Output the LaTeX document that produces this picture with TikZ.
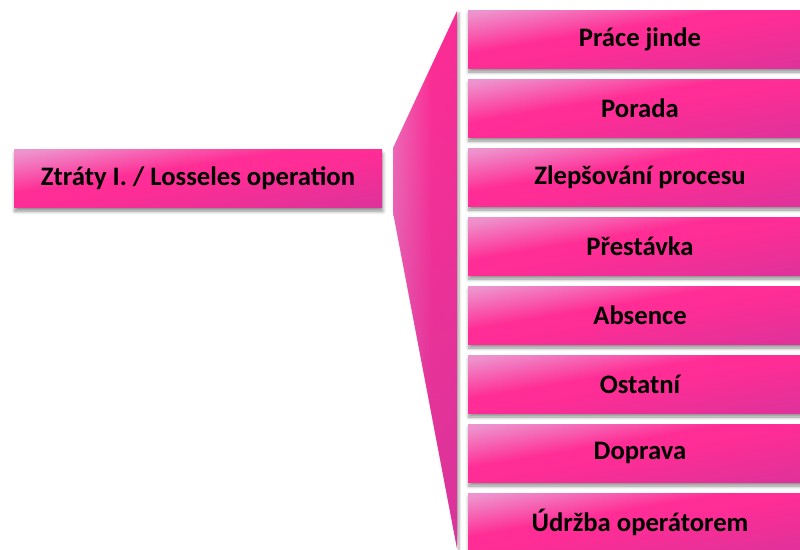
\documentclass[tikz,border=0pt]{standalone}
\usepackage{fontspec}
\setmainfont{Carlito}
\usetikzlibrary{shadows.blur,fadings}

\definecolor{lav}{HTML}{E4DBF0}
\definecolor{palepink}{HTML}{E6B6DF}
\definecolor{softpink}{HTML}{EE8FCB}
\definecolor{hotpink}{HTML}{FF2D95}
\definecolor{midmag}{HTML}{E2319A}
\definecolor{magdark}{HTML}{C63A9F}
\definecolor{fanlight}{HTML}{EAA9D8}
\definecolor{fanright}{HTML}{F42E97}

% tile gradient: light corner top left, deep magenta bottom right,
% bright pink along the rising diagonal
\pgfdeclareverticalshading{tileshade}{100bp}{%
  color(0bp)=(magdark); color(25bp)=(midmag); color(50bp)=(hotpink);
  color(57bp)=(hotpink); color(76bp)=(softpink); color(90bp)=(palepink);
  color(100bp)=(lav)}
% horizontal gradient of the fan
\pgfdeclarehorizontalshading{fanshade}{100bp}{%
  color(0bp)=(fanlight); color(55bp)=(hotpink); color(100bp)=(fanright)}
\tikzfading[name=darkenbottom, top color=transparent!100, bottom color=transparent!35]

\tikzset{
  tile/.style={shading=tileshade, draw=none,
    inner sep=0pt, font=\fontsize{20}{24}\selectfont\bfseries,
    text=black,
    blur shadow={shadow xshift=0.6pt, shadow yshift=-3pt,
      shadow blur radius=2.5pt, shadow blur steps=6, shadow opacity=45}},
  item/.style={tile, shading angle=9.57, minimum width=258pt, minimum height=43.5pt},
  fan/.style={shading=fanshade,
    blur shadow={shadow xshift=1.5pt, shadow yshift=-1.5pt,
      shadow blur radius=2pt, shadow blur steps=5, shadow opacity=35}},
}

\begin{document}
\begin{tikzpicture}[x=0.75pt,y=-0.75pt]
  \useasboundingbox (0,0) rectangle (800,550);

  % fan joining the source box to the list
  \coordinate (f1) at (393,148);
  \coordinate (f2) at (457,11);
  \coordinate (f3) at (457,548);
  \coordinate (f4) at (393,212);
  \path[fan] (f1) -- (f2) -- (f3) -- (f4) -- cycle;
  \fill[magdark, path fading=darkenbottom] (f1) -- (f2) -- (f3) -- (f4) -- cycle;

  % source box
  \node[tile, shading angle=8.88, minimum width=276pt, minimum height=43.1pt]
    (src) at (198,178.5) {Ztráty I. / Losseles operation};

  % list of losses
  \node[item] (t1) at (640,39)  {Práce jinde};
  \node[item] (t2) at (640,108) {Porada};
  \node[item] (t3) at (640,177) {Zlepšování procesu};
  \node[item] (t4) at (640,246) {Přestávka};
  \node[item] (t5) at (640,315) {Absence};
  \node[item] (t6) at (640,384) {Ostatní};
  \node[item] (t7) at (640,453) {Doprava};
  \node[item] (t8) at (640,522) {Údržba operátorem};
\end{tikzpicture}
\end{document}
